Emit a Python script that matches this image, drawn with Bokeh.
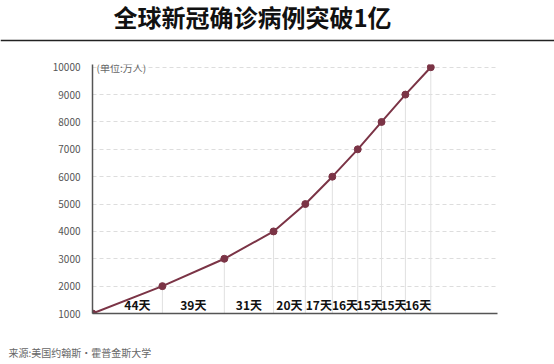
import numpy as np
from bokeh.plotting import figure
from bokeh.layouts import column
from bokeh.models import Label, FixedTicker, Range1d, ColumnDataSource
from bokeh.core.properties import value
from bokeh.embed import file_html
from bokeh.resources import INLINE

# ---- data ----
cases = [1000, 2000, 3000, 4000, 5000, 6000, 7000, 8000, 9000, 10000]   # 万人
interval_days = [44, 39, 31, 20, 17, 16, 15, 15, 16]
interval_labels = ["44天", "39天", "31天", "20天", "17天", "16天", "15天", "15天", "16天"]
y_ticks = [1000, 2000, 3000, 4000, 5000, 6000, 7000, 8000, 9000, 10000]
title_text = "全球新冠确诊病例突破1亿"
unit_text = "(单位:万人)"
source_text = "来源:美国约翰斯·霍普金斯大学"

days = np.concatenate([[0], np.cumsum(interval_days)])
mids = (days[:-1] + days[1:]) / 2.0
label_dx = [10, 0, 0, 0, 0, 0, 0, 0, 0]   # first label nudged off the line

W = 554
H_HEAD, H_MAIN, H_FOOT = 50, 275, 39
FONT = "Noto Sans CJK SC"
LINE_COLOR = "#7b3446"


def blank(fig):
    fig.outline_line_color = None
    fig.axis.visible = False
    fig.grid.visible = False
    fig.background_fill_color = "white"
    fig.border_fill_color = "white"
    return fig


# ---- header: title + rule ----
head = blank(figure(width=W, height=H_HEAD, output_backend="svg", toolbar_location=None,
                    x_range=Range1d(0, W), y_range=Range1d(0, H_HEAD),
                    min_border=0, frame_align=False))
head.text(x=[252], y=[H_HEAD - 16], text=[title_text], text_align="center",
          text_baseline="middle", text_font=value(FONT), text_font_style="bold",
          text_font_size="24px", text_color="#111111")
head.segment(x0=[0], y0=[H_HEAD - 40], x1=[W], y1=[H_HEAD - 40],
             line_color="#222222", line_width=1.6)

# ---- main chart ----
ML, MR, MT, MB = 92, 57, 14, 12
p = figure(width=W, height=H_MAIN, output_backend="svg", toolbar_location=None,
           x_range=Range1d(0, 255), y_range=Range1d(1000, 10100), frame_align=False,
           min_border_left=ML, min_border_right=MR, min_border_top=MT, min_border_bottom=MB)
p.outline_line_color = None
p.background_fill_color = "white"
p.border_fill_color = "white"

p.xaxis.ticker = []
p.xaxis.major_tick_line_color = None
p.xaxis.minor_tick_line_color = None
p.xaxis.axis_line_color = "#555555"
p.xaxis.axis_line_width = 1.5
p.yaxis.ticker = FixedTicker(ticks=y_ticks)
p.yaxis.major_tick_line_color = None
p.yaxis.minor_tick_line_color = None
p.yaxis.axis_line_color = "#555555"
p.yaxis.axis_line_width = 1.5
p.yaxis.major_label_text_font = FONT
p.yaxis.major_label_text_font_size = "10px"
p.yaxis.major_label_text_color = "#555555"
p.yaxis.major_label_standoff = 6

p.xgrid.grid_line_color = None
p.ygrid.ticker = FixedTicker(ticks=y_ticks[1:])
p.ygrid.grid_line_color = "#dddddd"
p.ygrid.grid_line_dash = "4 3"

# drop lines
p.segment(x0=days[1:], y0=[cases[0]] * len(days[1:]), x1=days[1:], y1=cases[1:],
          line_color="#e0e0e0", line_width=1)

# main line + markers
p.line(days, cases, line_color=LINE_COLOR, line_width=2)
p.scatter(days, cases, size=7, fill_color=LINE_COLOR, line_color=LINE_COLOR)

# interval labels
lab_src = ColumnDataSource(dict(x=mids, y=[cases[0]] * len(mids), t=interval_labels, dx=label_dx))
p.text(x="x", y="y", text="t", x_offset="dx", y_offset=-1, source=lab_src,
       text_align="center", text_baseline="bottom", text_font=value(FONT),
       text_font_style="bold", text_font_size="12px", text_color="#111111")

# unit label
p.add_layout(Label(x=0, y=10000, text=unit_text, x_offset=4, text_baseline="middle",
                   text_font=FONT, text_font_size="10px", text_color="#666666"))

# ---- footer: source ----
foot = blank(figure(width=W, height=H_FOOT, output_backend="svg", toolbar_location=None,
                    x_range=Range1d(0, W), y_range=Range1d(0, H_FOOT),
                    min_border=0, frame_align=False))
foot.text(x=[8], y=[H_FOOT - 27], text=[source_text], text_align="left",
          text_baseline="middle", text_font=value(FONT), text_font_size="10px",
          text_color="#666666")

layout = column(head, p, foot, spacing=0)
open("out.html", "w").write(file_html(layout, INLINE))
